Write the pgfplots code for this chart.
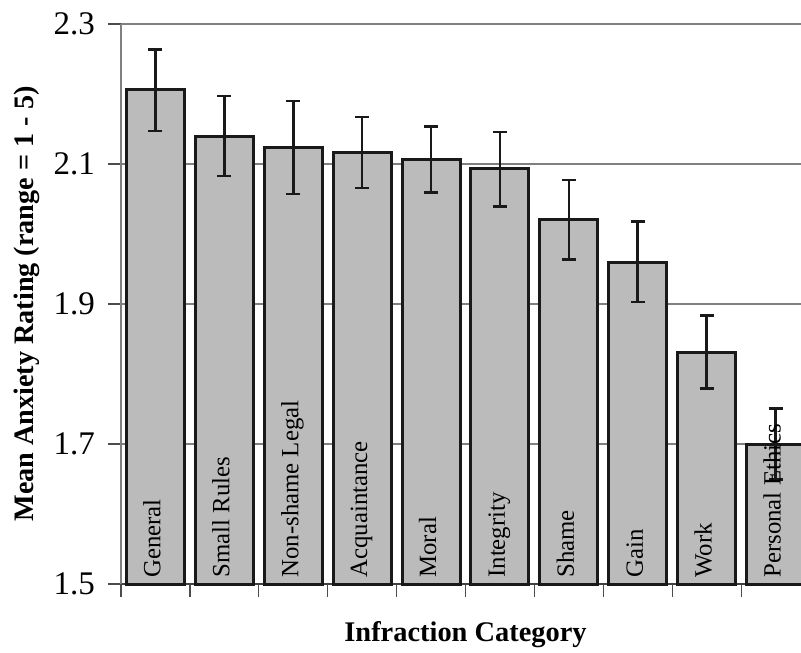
\documentclass[border=0pt]{standalone}
\usepackage{pgfplots}
\pgfplotsset{compat=1.18}
\usepackage{pgfplotstable}
\usepackage{fontspec}
\setmainfont{Liberation Serif}
\definecolor{barfill}{RGB}{187,187,187}
\definecolor{gridgray}{RGB}{128,128,128}

\pgfplotstableread{
x y ep em
0 2.206 0.058 0.059
1 2.139 0.058 0.056
2 2.123 0.067 0.066
3 2.116 0.051 0.050
4 2.106 0.048 0.047
5 2.093 0.053 0.054
6 2.021 0.056 0.057
7 1.960 0.058 0.057
8 1.831 0.053 0.052
9 1.700 0.051 0.051
}\datatable

\begin{document}
\begin{tikzpicture}
\begin{axis}[
  at={(0,0)}, anchor=south west,
  scale only axis, width=344.5pt, height=280pt,
  xmin=-0.5, xmax=9.5, ymin=1.5, ymax=2.3,
  ytick={1.5,1.7,1.9,2.1,2.3},
  /pgf/number format/assume math mode=true,
  yticklabel style={font=\fontsize{16.5}{19}\selectfont, /pgf/number format/fixed, /pgf/number format/precision=1, /pgf/number format/fixed zerofill, anchor=east, xshift=-3pt},
  xtick={-0.5,0.5,...,9.5}, xticklabels={},
  tick align=outside, major tick length=6.5pt,
  xtick pos=bottom, ytick pos=left,
  axis x line*=bottom, axis y line*=left,
  x axis line style={draw=black!75, line width=0.8pt},
  y axis line style={draw=gridgray, line width=0.8pt},
  tick style={draw=black!70, line width=0.6pt},
  ymajorgrids, grid style={draw=gridgray, line width=0.8pt},
  ylabel={\textbf{Mean Anxiety Rating (range = 1 - 5)}},
  ylabel style={at={(axis description cs:-0.1364,0.5)}, anchor=center, font=\fontsize{14.1}{17}\selectfont},
  xlabel={\textbf{Infraction Category}},
  xlabel style={at={(axis description cs:0.5,-0.1018)}, anchor=base, font=\fontsize{14.2}{17}\selectfont},
  clip=false,
]
\addplot[ybar, bar width=29pt, fill=barfill, draw=black!90, line width=1.5pt,
  error bars/.cd, y dir=both, y explicit,
  error bar style={line width=1.3pt, black!90},
  error mark options={line width=1.3pt, mark size=3.5pt, black!90, rotate=90}]
  table[x=x, y=y, y error plus=ep, y error minus=em]{\datatable};
\foreach \i/\lab in {0/General,1/Small Rules,2/Non-shame Legal,3/Acquaintance,4/Moral,5/Integrity,6/Shame,7/Gain,8/Work,9/Personal Ethics}{
  \edef\temp{\noexpand\node[rotate=90, anchor=west, inner xsep=3pt, inner ysep=0pt, text height=0.7em, text depth=0.2em, font=\noexpand\fontsize{12.4}{14}\noexpand\selectfont] at (axis cs:\i,1.5) {\lab};}
  \temp
}
\end{axis}
\pgfresetboundingbox
\path[use as bounding box] (-60.5pt,-34pt) rectangle (340pt,292pt);
\end{tikzpicture}
\end{document}
